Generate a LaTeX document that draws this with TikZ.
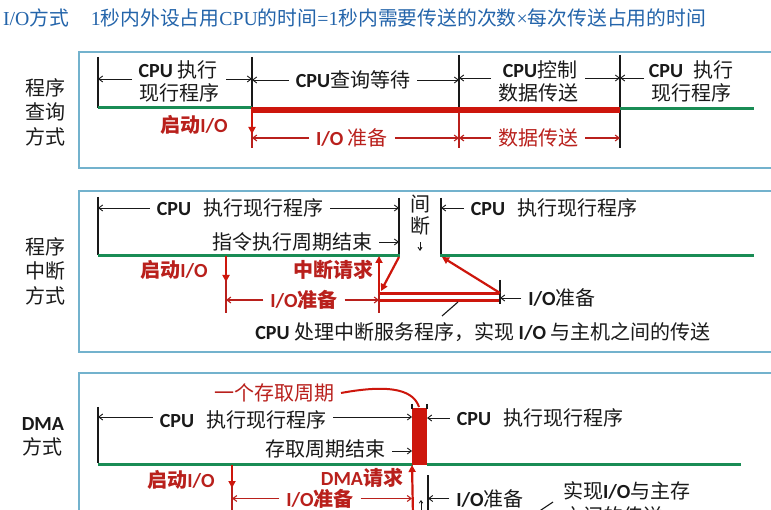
\documentclass[tikz,border=0pt]{standalone}
\usepackage{fontspec}
\setmainfont{Noto Sans CJK SC}
\newfontfamily\calfont{Carlito}
\newfontfamily\serfont{Liberation Serif}
\newcommand{\lat}[1]{{\calfont\bfseries #1}}
\newcommand{\ser}[1]{{\serfont #1}}
\usetikzlibrary{arrows.meta}
\definecolor{ttl}{RGB}{35,100,170}
\definecolor{grn}{RGB}{25,140,85}
\definecolor{rbar}{RGB}{205,22,12}
\definecolor{rtxt}{RGB}{185,32,28}
\definecolor{frm}{RGB}{115,178,205}
\definecolor{ink}{RGB}{25,25,25}
\begin{document}
\begin{tikzpicture}[x=1pt,y=-1pt,
  every node/.style={inner sep=0pt,outer sep=7pt},
  t/.style={font=\fontsize{20}{24}\selectfont,text=ink},
  rt/.style={font=\fontsize{20}{24}\selectfont\bfseries,text=rtxt},
  rtn/.style={font=\fontsize{20}{24}\selectfont,text=rtxt},
  side/.style={align=center,font=\fontsize{20}{24.5}\selectfont,text=ink},
  frame/.style={draw=frm,line width=1.1pt},
  gl/.style={draw=grn,line width=3pt},
  rb/.style={draw=rbar,line width=6pt},
  tk/.style={draw=ink,line width=1.1pt},
  rtk/.style={draw=rtxt,line width=1.4pt},
  arr/.style={draw=ink,line width=0.9pt,-{Straight Barb[length=4pt,width=6pt]}},
  rarr/.style={draw=rtxt,line width=1.1pt,-{Straight Barb[length=4pt,width=6pt]}},
  bigr/.style={draw=rbar,line width=2.2pt,-{Triangle[length=7pt,width=7pt]}},
  dr/.style={draw=rbar,line width=3pt},
]
\useasboundingbox (0,0) rectangle (771,510);
\fill[white] (0,0) rectangle (771,510);

% ---------- title ----------
\node[anchor=west,text=ttl,font=\fontsize{19.8}{22}\selectfont,outer sep=0pt] (title) at (3,18)
 {\ser{I/O}方式\hspace{1.1em}\ser{1}秒内外设占用\ser{CPU}的时间\ser{=1}秒内需要传送的次数\ser{×}每次传送占用的时间};

% ================= panel 1 : 程序查询方式 =================
\draw[frame] (79,52) rectangle (795,168);
\node[side] (s1) at (45,112) {程序\\查询\\方式};
\coordinate (a0) at (98,57);
\coordinate (a1) at (252,57);
\coordinate (a2) at (459,55);
\coordinate (a3) at (620,55);
\draw[tk] (a0) -- (98,108);
\draw[tk] (a1) -- (252,108);
\draw[tk] (a2) -- (459,108);
\draw[tk] (a3) -- (620,148);
\draw[gl] (98,108) -- (252,108);
\draw[rb] (251,110) -- (620,110);
\draw[gl] (620,109) -- (754,109);
\draw[rtk] (252,112) -- (252,148);
\draw[rtk] (459,112) -- (459,148);
\draw[bigr] (252,112) -- (252,134);

\node[t] (p1a) at (178,69.5) {\lat{CPU} 执行};
\node[t] (p1b) at (179,93) {现行程序};
\coordinate (y1) at (0,79);
\draw[arr] (p1b.west |- y1) -- (a0 |- y1);
\draw[arr] (p1b.east |- y1) -- (a1 |- y1);
\node[t] (p1c) at (353,80) {\lat{CPU}查询等待};
\draw[arr] (p1c.west) -- (a1 |- p1c.west);
\draw[arr] (p1c.east) -- (a2 |- p1c.east);
\node[t] (p1d) at (540,69.5) {\lat{CPU}控制};
\node[t] (p1e) at (538,93) {数据传送};
\coordinate (y2) at (0,78);
\draw[arr] (p1e.west |- y2) -- (a2 |- y2);
\draw[arr] (p1e.east |- y2) -- (a3 |- y2);
\node[t] (p1f) at (691,69.5) {\lat{CPU}\hspace{0.5em}执行};
\node[t] (p1g) at (691,93) {现行程序};
\draw[arr] (p1g.west |- y2) -- (a3 |- y2);

\node[rt] (p1h) at (194,125) {启动\lat{I/O}};
\node[rtn] (p1i) at (352,138) {\lat{I/O} 准备};
\draw[rarr] (p1i.west) -- (a1 |- p1i.west);
\draw[rarr] (p1i.east) -- (a2 |- p1i.east);
\node[rtn] (p1j) at (538,138) {数据传送};
\draw[rarr] (p1j.west) -- (a2 |- p1j.west);
\draw[rarr] (p1j.east) -- (a3 |- p1j.east);

% ================= panel 2 : 程序中断方式 =================
\draw[frame] (79,191) rectangle (795,352);
\node[side] (s2) at (45,271) {程序\\中断\\方式};
\coordinate (b0) at (98,197);
\coordinate (b1) at (399,198);
\coordinate (b2) at (441,198);
\coordinate (b3) at (226,256);
\coordinate (b4) at (379,256);
\coordinate (b5) at (500,280);
\draw[tk] (b0) -- (98,255);
\draw[tk] (b1) -- (399,255);
\draw[tk] (b2) -- (441,255);
\draw[gl] (98,256) -- (400,256);
\draw[gl] (440,256) -- (754,256);

\node[t] (p2a) at (240,208) {\lat{CPU}\hspace{0.6em}执行现行程序};
\draw[arr] (p2a.west) -- (b0 |- p2a.west);
\draw[arr] (p2a.east) -- (b1 |- p2a.east);
\node[t] (p2b) at (292,242) {指令执行周期结束};
\draw[arr] (p2b.east) -- (b1 |- p2b.east);
\node[t] (p2c) at (420,204) {间};
\node[t] (p2d) at (420,226) {断};
\draw[draw=ink,line width=0.9pt,-{Straight Barb[length=3pt,width=4pt]}] (p2d.south) -- (420,251);
\node[t] (p2e) at (554,208) {\lat{CPU}\hspace{0.6em}执行现行程序};
\draw[arr] (p2e.west) -- (b2 |- p2e.west);

\node[rt] (p2f) at (174,270) {启动\lat{I/O}};
\draw[bigr] (b3) -- (226,282);
\draw[rtk] (226,280) -- (226,313);
\node[rt] (p2g) at (304,300) {\lat{I/O}准备};
\draw[rarr] (p2g.west) -- (b3 |- p2g.west);
\draw[rarr] (p2g.east) -- (b4 |- p2g.east);
\draw[rtk] (379,290) -- (379,313);
\node[rt] (p2h) at (333,270) {中断请求};
\draw[bigr] (379,293) -- (b4);
\draw[dr] (379,293.5) -- (500,293.5);
\draw[dr] (379,300.5) -- (500,300.5);
\draw[tk] (b5) -- (500,304);
\draw[bigr] (399,257) -- (381,291);
\draw[bigr] (500,293) -- (442,257);
\node[t] (p2i) at (562,298) {\lat{I/O}准备};
\draw[arr] (p2i.west) -- (b5 |- p2i.west);
\node[t] (p2j) at (483,332) {\lat{CPU} 处理中断服务程序，实现 \lat{I/O} 与主机之间的传送};
\draw[tk] (442,316) -- (458,302);

% ================= panel 3 : DMA方式 =================
\draw[frame] (79,373) rectangle (795,560);
\node[side] (s3) at (43,437) {\lat{DMA}\\方式};
\coordinate (c0) at (98,407);
\coordinate (c1) at (412,407);
\coordinate (c2) at (427,407);
\coordinate (c3) at (232,465);
\coordinate (c4) at (428,475);
\draw[tk] (c0) -- (98,463);
\draw[gl] (98,464) -- (413,464);
\draw[gl] (427,464) -- (741,464);
\fill[rbar] (412,408) rectangle (427,465);
\draw[tk] (412,404) -- (412,409);
\draw[tk] (427,404) -- (427,409);

\node[rtn] (p3a) at (274,393) {一个存取周期};
\draw[draw=rbar,line width=2pt] (p3a.east) .. controls (395,383) and (414,392) .. (419,407);
\node[t] (p3b) at (243,420) {\lat{CPU}\hspace{0.6em}执行现行程序};
\draw[arr] (p3b.west |- c0) ++(0,10) -- (98,417);
\draw[arr] (p3b.east) ++(0,-3) -- (412,417);
\node[t] (p3c) at (540,418) {\lat{CPU}\hspace{0.6em}执行现行程序};
\draw[arr] (p3c.west) -- (c2 |- p3c.west);
\node[t] (p3d) at (325,449) {存取周期结束};
\draw[arr] (p3d.east) ++(0,2) -- (412,451);

\node[rt] (p3e) at (181,480) {启动\lat{I/O}};
\draw[bigr] (c3) -- (232,488);
\draw[rtk] (232,486) -- (232,515);
\node[rt] (p3f) at (320,498.5) {\lat{I/O}准备};
\draw[rarr] (p3f.west) -- (c3 |- p3f.west);
\draw[rarr] (p3f.east) -- (c1 |- p3f.west);
\node[rt] (p3g) at (362,478) {\lat{DMA}请求};
\draw[bigr] (413,515) -- (c1 |- c3);
\draw[draw=ink,line width=0.8pt,-{Straight Barb[length=2.5pt,width=3.5pt]}] (421,512) -- (421,500);
\draw[tk] (c4) -- (428,515);
\node[t] (p3h) at (490,498.5) {\lat{I/O}准备};
\draw[arr] (p3h.west) -- (c4 |- p3h.west);
\draw[tk] (538,512) -- (553,502);
\node[t,anchor=west,outer sep=0pt] (p3i) at (563,491) {实现\lat{I/O}与主存};
\node[t,anchor=west,outer sep=0pt] (p3j) at (563,516) {之间的传送};
\end{tikzpicture}
\end{document}
